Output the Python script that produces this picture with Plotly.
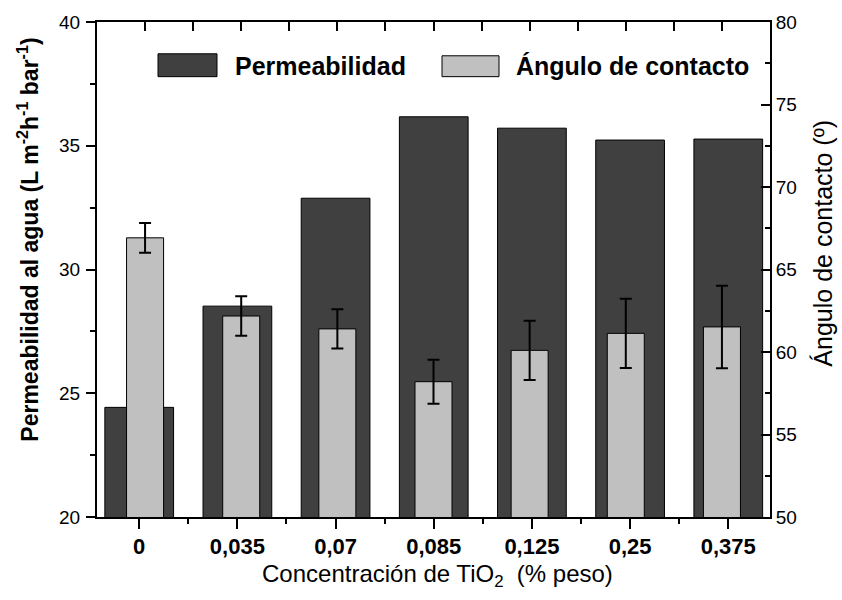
import plotly.graph_objects as go

# TiO2 loading (% by weight) and measured properties of each membrane
categories = ["0", "0,035", "0,07", "0,085", "0,125", "0,25", "0,375"]
permeability = [24.43, 28.52, 32.88, 36.17, 35.71, 35.23, 35.27]   # L m-2 h-1 bar-1
contact_angle = [66.92, 62.18, 61.40, 58.20, 60.10, 61.13, 61.52]  # degrees
contact_angle_err = [0.90, 1.20, 1.19, 1.33, 1.80, 2.10, 2.50]

series_names = ["Permeabilidad", "Ángulo de contacto"]
y_left_ticks = [20, 25, 30, 35, 40]
y_right_ticks = [50, 55, 60, 65, 70, 75, 80]

FONT = "Liberation Sans, Arial, Helvetica, sans-serif"
DARK = "#404040"
LIGHT = "#c0c0c0"

W, H = 842, 600
ML, MR, MT, MB = 97, 72, 19, 83
PW, PH = W - ML - MR, H - MT - MB

idx = list(range(len(categories)))
mid = [i + 0.5 for i in idx[:-1]]


def px(x):
    return (x - ML) / PW


def py(y):
    return (H - MB - y) / PH


fig = go.Figure()

fig.add_trace(go.Bar(
    x=idx, y=permeability, name=series_names[0], width=0.70,
    marker=dict(color=DARK, line=dict(color="black", width=1)),
    xaxis="x", yaxis="y", showlegend=False,
))

fig.add_trace(go.Bar(
    x=idx, y=contact_angle, name=series_names[1], width=0.385,
    marker=dict(color=LIGHT, line=dict(color="black", width=1)),
    error_y=dict(type="data", array=contact_angle_err, visible=True,
                 color="black", thickness=2, width=6),
    xaxis="x2", yaxis="y2", showlegend=False,
))

axis_line = dict(showline=True, linecolor="black", linewidth=2,
                 showgrid=False, zeroline=False)

fig.update_layout(
    width=W, height=H,
    margin=dict(l=ML, r=MR, t=MT, b=MB, pad=0),
    paper_bgcolor="white", plot_bgcolor="white",
    font=dict(family=FONT, color="black"),
    barmode="overlay",
    xaxis=dict(
        **axis_line,
        range=[-0.43, 6.425],
        tickmode="array", tickvals=idx, ticktext=categories,
        ticks="outside", ticklen=10, tickwidth=2, tickcolor="black",
        minor=dict(tickmode="array", tickvals=mid, ticks="outside",
                   ticklen=5, tickwidth=2, tickcolor="black"),
        tickfont=dict(family=FONT, size=22, weight="bold"),
        ticklabelstandoff=-1,
    ),
    xaxis2=dict(
        **axis_line,
        overlaying="x", side="top",
        range=[-0.5, 6.5],
        tickmode="array", tickvals=idx, showticklabels=False,
        ticks="inside", ticklen=9, tickwidth=2, tickcolor="black",
        minor=dict(tickmode="array", tickvals=mid, ticks="inside",
                   ticklen=9, tickwidth=2, tickcolor="black"),
    ),
    yaxis=dict(
        **axis_line,
        range=[20, 40],
        tickmode="array", tickvals=y_left_ticks,
        ticks="outside", ticklen=9, tickwidth=2, tickcolor="black",
        minor=dict(dtick=2.5, tick0=20, ticks="outside", ticklen=5,
                   tickwidth=2, tickcolor="black"),
        tickfont=dict(family=FONT, size=19),
        ticklabelstandoff=2,
    ),
    yaxis2=dict(
        **axis_line,
        overlaying="y", side="right",
        range=[50, 80],
        tickmode="array", tickvals=y_right_ticks,
        ticks="inside", ticklen=9, tickwidth=2, tickcolor="black",
        minor=dict(dtick=2.5, tick0=50, ticks="inside", ticklen=5,
                   tickwidth=2, tickcolor="black"),
        tickfont=dict(family=FONT, size=19),
    ),
)

# Legend: swatches and labels inside the plot area
legend_items = [
    (series_names[0], DARK, 158, 217, 51, 74, 233),
    (series_names[1], LIGHT, 442, 499, 53, 74, 514),
]
for name, color, x0, x1, y0, y1, tx in legend_items:
    fig.add_shape(type="rect", xref="paper", yref="paper",
                  x0=px(x0), x1=px(x1), y0=py(y1), y1=py(y0),
                  fillcolor=color, line=dict(color="black", width=1))
    fig.add_annotation(xref="paper", yref="paper", x=px(tx), y=py(63),
                       text=f"<b>{name}</b>", showarrow=False,
                       xanchor="left", yanchor="middle",
                       font=dict(family=FONT, size=25, color="black"))

# Axis titles
fig.add_annotation(
    xref="paper", yref="paper", x=px(28), y=py(238),
    text="<b>Permeabilidad al agua (L m<sup>-2</sup>h<sup>-1</sup> bar<sup>-1</sup>)</b>",
    textangle=-90, showarrow=False, xanchor="center", yanchor="middle",
    font=dict(family=FONT, size=23, color="black"))
fig.add_annotation(
    xref="paper", yref="paper", x=px(823), y=py(242),
    text="Ángulo de contacto (º)",
    textangle=-90, showarrow=False, xanchor="center", yanchor="middle",
    font=dict(family=FONT, size=25, color="black"))
fig.add_annotation(
    xref="paper", yref="paper", x=px(437), y=py(576),
    text="Concentración de TiO<sub>2</sub>  (% peso)",
    showarrow=False, xanchor="center", yanchor="middle",
    font=dict(family=FONT, size=24, color="black"))

fig.write_html("out.html")
